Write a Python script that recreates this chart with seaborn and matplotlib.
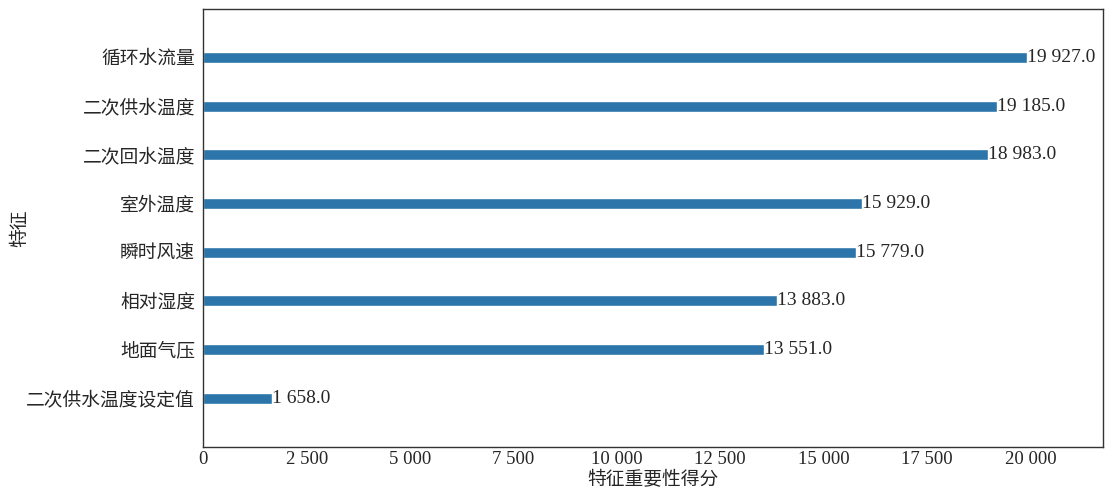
import matplotlib
matplotlib.use("Agg")
import matplotlib.pyplot as plt
import seaborn as sns
import pandas as pd

# ------------------------------------------------------------
# DATA (top to bottom)
# ------------------------------------------------------------
features = ["循环水流量", "二次供水温度", "二次回水温度", "室外温度",
            "瞬时风速", "相对湿度", "地面气压", "二次供水温度设定值"]
scores = [19927.0, 19185.0, 18983.0, 15929.0, 15779.0, 13883.0, 13551.0, 1658.0]
xticks = [0, 2500, 5000, 7500, 10000, 12500, 15000, 17500, 20000]

df = pd.DataFrame({"feature": features, "score": scores})

sns.set_style("white")
plt.rcParams["font.family"] = ["Liberation Serif", "Noto Sans CJK SC"]
plt.rcParams["axes.unicode_minus"] = False


def fmt(v):
    return f"{v:,.1f}".replace(",", " ")


fig, ax = plt.subplots(figsize=(11.05, 4.9), dpi=100)
sns.barplot(data=df, x="score", y="feature", orient="h", order=features,
            color="#2b75aa", saturation=1, width=0.23, ax=ax)

for i, v in enumerate(scores):
    ax.text(v, i, fmt(v), va="center", ha="left", fontsize=14)

ax.set_xlim(0, 21750)
ax.set_ylim(8, -1)
ax.set_xticks(xticks)
ax.set_xticklabels([fmt(t)[:-2] for t in xticks], fontsize=13.5)
ax.tick_params(axis="y", length=0, labelsize=13.5, pad=6)
ax.tick_params(axis="x", direction="in", length=4, pad=3)
for s in ax.spines.values():
    s.set_visible(True)
    s.set_color("#333333")
    s.set_linewidth(1)

ax.set_xlabel("特征重要性得分", fontsize=13.5, labelpad=2)
ax.set_ylabel("特征", fontsize=13.5)
ax.yaxis.set_label_coords(-0.194, 0.5)

plt.subplots_adjust(left=0.184, right=0.998, top=0.982, bottom=0.088)
plt.savefig("out.png", dpi=100)
